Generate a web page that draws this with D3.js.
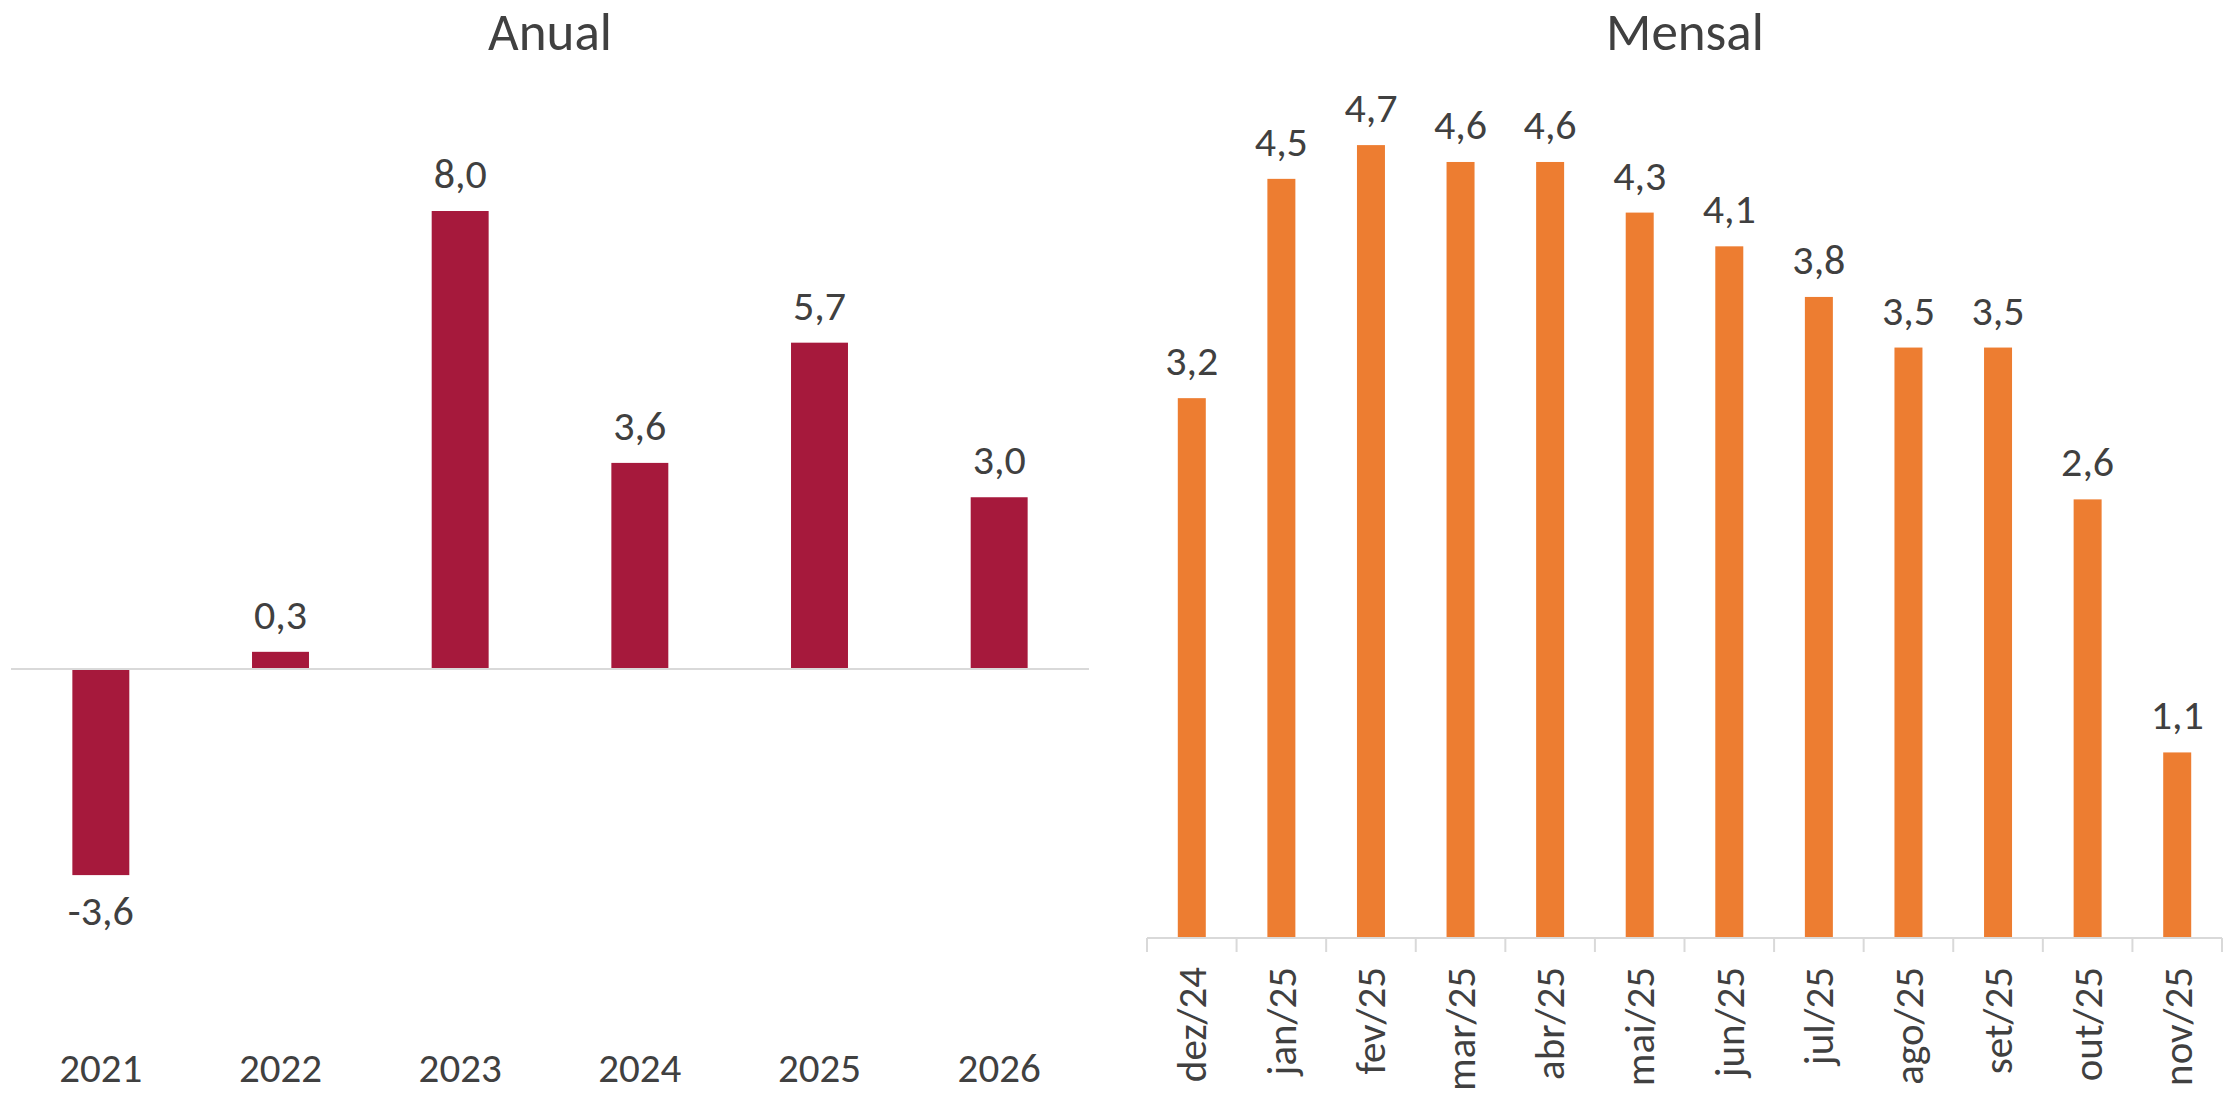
<!DOCTYPE html>
<html>
<head>
<meta charset="utf-8">
<script src="https://cdn.jsdelivr.net/npm/d3@7"></script>
<style>
  body { margin: 0; background: #fff; }
  text { font-family: Carlito, Calibri, "Open Sans", sans-serif; fill: #404040; }
</style>
</head>
<body>
<svg width="2233" height="1097"></svg>
<script>
// annual data
var anos = ["2021", "2022", "2023", "2024", "2025", "2026"];
var anual = [-3.6, 0.3, 8.0, 3.6, 5.7, 3.0];

// monthly data
var meses = ["dez/24", "jan/25", "fev/25", "mar/25", "abr/25", "mai/25",
             "jun/25", "jul/25", "ago/25", "set/25", "out/25", "nov/25"];
var mensal = [3.2, 4.5, 4.7, 4.6, 4.6, 4.3, 4.1, 3.8, 3.5, 3.5, 2.6, 1.1];

var svg = d3.select("svg");
var fmt = function(v) { return d3.format(".1f")(v).replace(".", ",").replace("−", "-"); };

// ---------- Anual ----------
var xA = d3.scaleBand().domain(anos).range([11, 1089]).paddingInner(0.683).paddingOuter(0.3415);
var yA = d3.scaleLinear().domain([-4, 8]).range([898, 211]);

var gA = svg.append("g");

gA.append("text") // title
  .attr("x", 550).attr("y", 50)
  .attr("text-anchor", "middle")
  .style("font-size", "53px")
  .text("Anual");

gA.selectAll("rect")
  .data(anual)
  .enter().append("rect")
    .attr("x", function(d, i) { return xA(anos[i]); })
    .attr("width", xA.bandwidth())
    .attr("y", function(d) { return yA(Math.max(0, d)); })
    .attr("height", function(d) { return Math.abs(yA(d) - yA(0)); })
    .attr("fill", "#A6193C");

gA.append("line") // zero line
  .attr("x1", 11).attr("x2", 1089)
  .attr("y1", yA(0)).attr("y2", yA(0))
  .attr("stroke", "#d9d9d9").attr("stroke-width", 2);

gA.selectAll(".val")
  .data(anual)
  .enter().append("text")
    .attr("class", "val")
    .attr("x", function(d, i) { return xA(anos[i]) + xA.bandwidth() / 2; })
    .attr("y", function(d) { return d >= 0 ? yA(d) - 23 : yA(d) + 50; })
    .attr("text-anchor", "middle")
    .style("font-size", "42px")
    .text(fmt);

var axA = gA.append("g")
  .attr("transform", "translate(0,1041)")
  .call(d3.axisBottom(xA).tickSize(0).tickPadding(0));
axA.select(".domain").remove();
axA.selectAll("text").style("font-size", "41px").attr("fill", "#404040").attr("dy", "1em");

// ---------- Mensal ----------
var xM = d3.scaleBand().domain(meses).range([1147, 2222]).paddingInner(0.6875).paddingOuter(0.34375);
var yM = d3.scaleLinear().domain([0, 5]).range([938, 94.5]);

var gM = svg.append("g");

gM.append("text")
  .attr("x", 1685).attr("y", 50)
  .attr("text-anchor", "middle")
  .style("font-size", "53px")
  .text("Mensal");

gM.selectAll("rect")
  .data(mensal)
  .enter().append("rect")
    .attr("x", function(d, i) { return xM(meses[i]); })
    .attr("width", xM.bandwidth())
    .attr("y", function(d) { return yM(d); })
    .attr("height", function(d) { return yM(0) - yM(d); })
    .attr("fill", "#ED7D31");

gM.selectAll(".val")
  .data(mensal)
  .enter().append("text")
    .attr("class", "val")
    .attr("x", function(d, i) { return xM(meses[i]) + xM.bandwidth() / 2; })
    .attr("y", function(d) { return yM(d) - 23; })
    .attr("text-anchor", "middle")
    .style("font-size", "42px")
    .text(fmt);

// axis line + tick marks between categories (excel style)
gM.append("line")
  .attr("x1", 1147).attr("x2", 2222)
  .attr("y1", yM(0)).attr("y2", yM(0))
  .attr("stroke", "#d9d9d9").attr("stroke-width", 2);

gM.selectAll(".tk")
  .data(d3.range(meses.length + 1))
  .enter().append("line")
    .attr("class", "tk")
    .attr("x1", function(i) { return 1147 + i * xM.step(); })
    .attr("x2", function(i) { return 1147 + i * xM.step(); })
    .attr("y1", yM(0)).attr("y2", yM(0) + 14)
    .attr("stroke", "#d9d9d9").attr("stroke-width", 2);

gM.selectAll(".lbl")
  .data(meses)
  .enter().append("text")
    .attr("class", "lbl")
    .attr("transform", function(d) {
      return "translate(" + (xM(d) + xM.bandwidth() / 2) + "," + (yM(0) + 29) + ") rotate(-90)";
    })
    .attr("text-anchor", "end")
    .attr("dy", "0.35em")
    .style("font-size", "41px")
    .text(function(d) { return d; });
</script>
</body>
</html>
